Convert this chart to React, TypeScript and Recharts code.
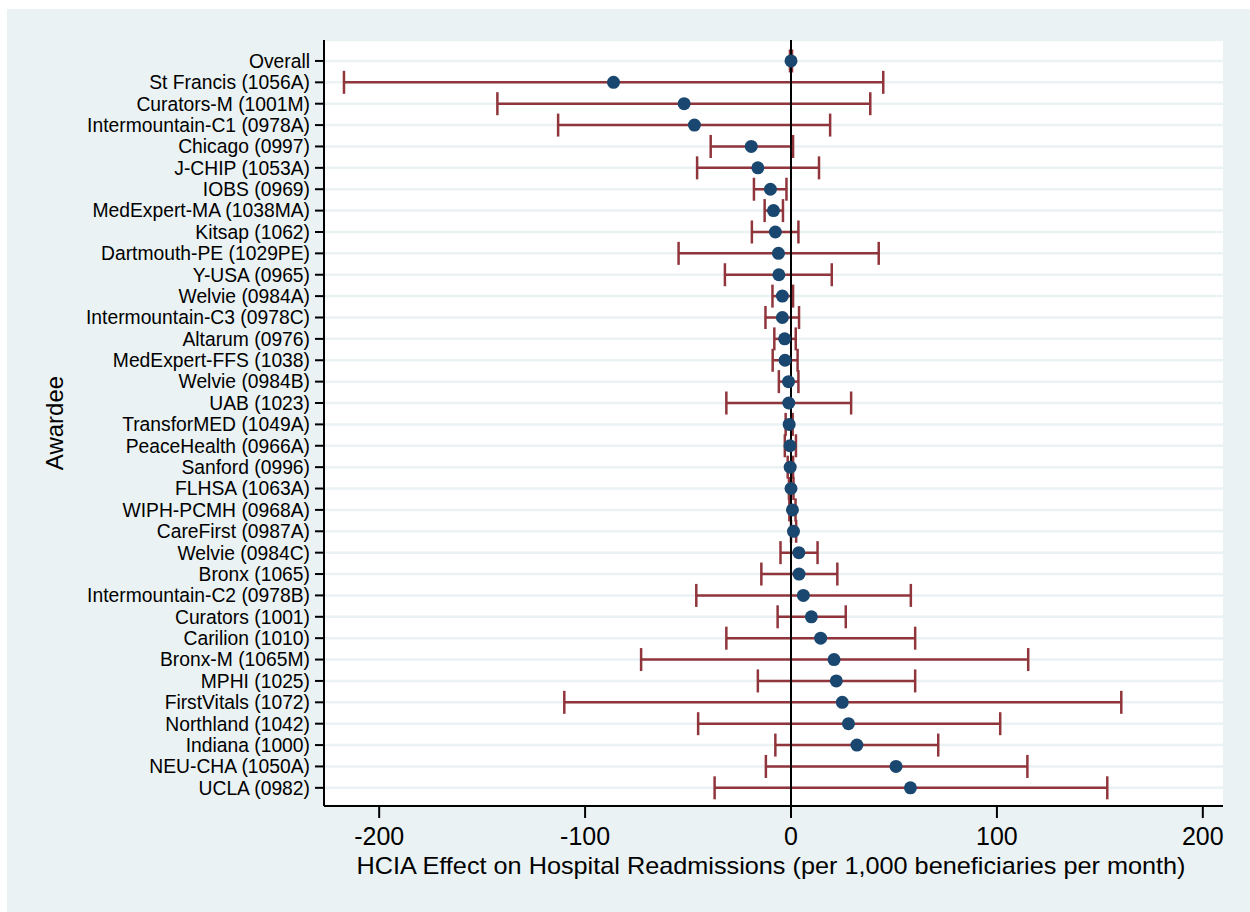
import {
  ScatterChart, Scatter, XAxis, YAxis, CartesianGrid, ReferenceLine, ErrorBar, Label,
} from 'recharts'

const AWARDEES = [
  'Overall', 'St Francis (1056A)', 'Curators-M (1001M)', 'Intermountain-C1 (0978A)',
  'Chicago (0997)', 'J-CHIP (1053A)', 'IOBS (0969)', 'MedExpert-MA (1038MA)',
  'Kitsap (1062)', 'Dartmouth-PE (1029PE)', 'Y-USA (0965)', 'Welvie (0984A)',
  'Intermountain-C3 (0978C)', 'Altarum (0976)', 'MedExpert-FFS (1038)', 'Welvie (0984B)',
  'UAB (1023)', 'TransforMED (1049A)', 'PeaceHealth (0966A)', 'Sanford (0996)',
  'FLHSA (1063A)', 'WIPH-PCMH (0968A)', 'CareFirst (0987A)', 'Welvie (0984C)',
  'Bronx (1065)', 'Intermountain-C2 (0978B)', 'Curators (1001)', 'Carilion (1010)',
  'Bronx-M (1065M)', 'MPHI (1025)', 'FirstVitals (1072)', 'Northland (1042)',
  'Indiana (1000)', 'NEU-CHA (1050A)', 'UCLA (0982)',
]

// point estimate and 95% CI bounds
const EFFECT = [
  0, -86.2, -51.9, -46.9, -19.3, -16.1, -10.0, -8.5, -7.6, -6.1, -5.9, -4.2,
  -4.2, -3.1, -2.9, -1.2, -1.1, -0.9, -0.5, -0.4, 0.0, 0.7, 1.2, 3.8,
  3.9, 6.0, 9.9, 14.4, 20.9, 22.0, 24.9, 27.9, 32.0, 51.0, 58.0,
]
const CI_LOW = [
  -0.5, -217.1, -142.6, -113.1, -39.0, -45.6, -18.0, -12.8, -19.0, -54.6, -32.1, -9.0,
  -12.4, -8.1, -8.9, -5.9, -31.4, -2.6, -3.0, -1.6, -1.0, -0.8, 0.0, -5.1,
  -14.4, -46.0, -6.5, -31.4, -72.8, -16.1, -110.1, -45.1, -7.6, -12.2, -37.1,
]
const CI_HIGH = [
  0.5, 44.8, 38.5, 19.0, 1.0, 13.6, -2.2, -3.9, 3.6, 42.6, 19.8, 1.0,
  3.9, 2.3, 3.2, 3.6, 29.2, 0.8, 2.4, 1.0, 1.2, 2.2, 2.5, 12.9,
  22.5, 58.2, 26.6, 60.3, 115.2, 60.3, 160.4, 101.6, 71.5, 114.8, 153.6,
]

const X_TICKS = [-200, -100, 0, 100, 200]

const FONT = '"Liberation Sans", Arial, sans-serif'
const NAVY = '#1a476f'
const MAROON = '#90353b'
const BG = '#eaf2f3'

const rows = AWARDEES.map((name, i) => ({
  row: i,
  name,
  effect: EFFECT[i],
  err: [EFFECT[i] - CI_LOW[i], CI_HIGH[i] - EFFECT[i]],
}))

const Dot = (p: any) => <circle cx={p.cx} cy={p.cy} r={6.5} fill={NAVY} />

export default function App() {
  return (
    <div style={{ position: 'absolute', left: 7, top: 9, width: 1243, height: 903, background: BG }}>
      <ScatterChart width={1243} height={892} margin={{ top: 31, right: 27, left: 0, bottom: 0 }}>
        <CartesianGrid vertical={false} stroke={BG} strokeWidth={2.5} fill="#fff" />
        <XAxis
          type="number" dataKey="effect" domain={[-226.8, 209.8]} allowDataOverflow
          ticks={X_TICKS} height={95} tickSize={12} tickMargin={9}
          tick={{ fontSize: 25, fill: '#000', fontFamily: FONT }}
          axisLine={{ stroke: '#000', strokeWidth: 2 }} tickLine={{ stroke: '#000', strokeWidth: 2 }}
        >
          <Label content={() => (
            <text x={764} y={865} textAnchor="middle" fontSize={24} fontFamily={FONT}
              fill="#000" textLength={829} lengthAdjust="spacingAndGlyphs">
              HCIA Effect on Hospital Readmissions (per 1,000 beneficiaries per month)
            </text>
          )} />
        </XAxis>
        <YAxis
          type="number" dataKey="row" domain={[-0.98, 34.85]} allowDataOverflow reversed
          ticks={rows.map(r => r.row)} interval={0} tickFormatter={v => AWARDEES[v]}
          width={317} tickSize={9} tickMargin={5}
          tick={{ fontSize: 19.3, fill: '#000', fontFamily: FONT }}
          axisLine={{ stroke: '#000', strokeWidth: 2 }} tickLine={{ stroke: '#000', strokeWidth: 2 }}
        >
          <Label content={() => (
            <text x={56} y={414} transform="rotate(-90 56 414)" textAnchor="middle"
              fontSize={24} fontFamily={FONT} fill="#000">
              Awardee
            </text>
          )} />
        </YAxis>
        <Scatter data={rows} shape={() => <g />} isAnimationActive={false}>
          <ErrorBar dataKey="err" direction="x" width={11.5} stroke={MAROON} strokeWidth={2.5}
            isAnimationActive={false} />
        </Scatter>
        <ReferenceLine x={0} stroke="#000" strokeWidth={2} />
        <Scatter data={rows} shape={Dot} isAnimationActive={false} />
      </ScatterChart>
    </div>
  )
}
